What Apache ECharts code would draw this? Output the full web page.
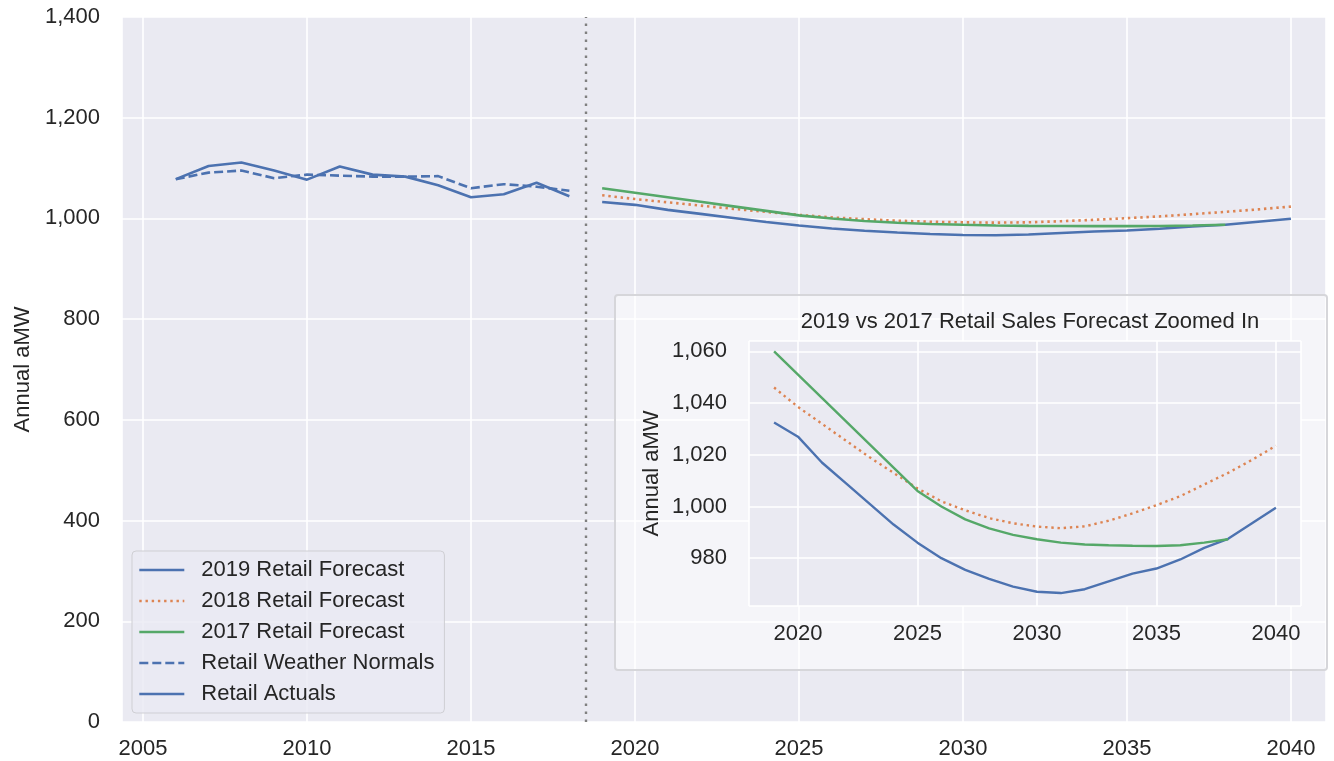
<!DOCTYPE html>
<html>
<head>
<meta charset="utf-8">
<title>Retail Sales Forecast</title>
<script src="https://cdn.jsdelivr.net/npm/echarts@6/dist/echarts.min.js"></script>
<style>
  html, body { margin: 0; padding: 0; background: #fff; }
  #chart { width: 1334px; height: 761px; }
</style>
</head>
<body>
<div id="chart"></div>
<script>
// history
var histYears = [2006, 2007, 2008, 2009, 2010, 2011, 2012, 2013, 2014, 2015, 2016, 2017, 2018];
var retailActuals = [1078, 1104, 1111, 1095, 1077, 1103, 1087, 1083, 1066, 1042, 1048, 1071, 1044];
var weatherNormals = [1078, 1091, 1095, 1080, 1087, 1085, 1083, 1083, 1084, 1060, 1068, 1063, 1055];

// forecasts
var forecastYears = [2019, 2020, 2021, 2022, 2023, 2024, 2025, 2026, 2027, 2028, 2029,
                     2030, 2031, 2032, 2033, 2034, 2035, 2036, 2037, 2038, 2039, 2040];
var forecast2019 = [1032.5, 1027, 1017, 1009, 1001, 993, 986, 980, 975.5, 972, 969,
                    967, 966.5, 968, 971, 974, 976, 979.5, 984, 987.5, 993.5, 999.5];
var forecast2018 = [1046, 1038.5, 1032, 1025.5, 1019, 1013, 1007, 1002, 998.5, 995.5, 993.5,
                    992.2, 991.6, 992.3, 994.5, 997.3, 1000.5, 1004, 1008.5, 1013, 1018, 1023.5];
var forecast2017 = [1060, 1051, 1042, 1033, 1024, 1015, 1006, 1000, 995, 991.5, 989,
                    987.3, 986, 985.3, 985, 984.8, 984.7, 985, 986, 987.3];

var splitYear = 2018.5;
var names = ["2019 Retail Forecast", "2018 Retail Forecast", "2017 Retail Forecast",
             "Retail Weather Normals", "Retail Actuals"];

var FONT = "Liberation Sans, Arial, sans-serif";
var TEXT = "#262626";
var BLUE = "#4C72B0", ORANGE = "#DD8452", GREEN = "#55A868";

function pairs(xs, ys) {
  return ys.map(function(v, i) { return [xs[i], v]; });
}
function onStep(v, step) {
  return Math.abs(v - Math.round(v / step) * step) < 1e-6;
}
function commas(v) {
  return Math.round(v).toLocaleString("en-US");
}

var chart = echarts.init(document.getElementById("chart"));

var labelStyle = { fontFamily: FONT, fontSize: 22, color: TEXT };
var gridLine = { show: true, lineStyle: { color: "#ffffff", width: 1.6 } };

function xAxisOf(gridIndex, min, max, margin) {
  return {
    type: "value", gridIndex: gridIndex, min: min, max: max,
    splitNumber: 8, minInterval: 5, maxInterval: 5,
    axisLine: { show: false }, axisTick: { show: false },
    splitLine: gridLine,
    axisLabel: Object.assign({ margin: margin, formatter: function(v) {
      return onStep(v, 5) ? String(Math.round(v)) : "";
    } }, labelStyle)
  };
}

function lines(xi, yi, width, z) {
  var base = { type: "line", xAxisIndex: xi, yAxisIndex: yi, symbol: "none", z: z };
  var out = [
    { name: names[0], data: pairs(forecastYears, forecast2019), color: BLUE,
      lineStyle: { color: BLUE, width: width } },
    { name: names[1], data: pairs(forecastYears, forecast2018), color: ORANGE,
      lineStyle: { color: ORANGE, width: width, type: [2.4, 3.8] } },
    { name: names[2], data: pairs(forecastYears, forecast2017), color: GREEN,
      lineStyle: { color: GREEN, width: width } }
  ];
  if (xi === 0) {
    out.push({ name: names[3], data: pairs(histYears, weatherNormals), color: BLUE,
      lineStyle: { color: BLUE, width: width, type: [9, 4] } });
    out.push({ name: names[4], data: pairs(histYears, retailActuals), color: BLUE,
      lineStyle: { color: BLUE, width: width },
      markLine: {
        silent: true, symbol: "none", label: { show: false },
        lineStyle: { color: "#808080", width: 2.4, type: [2.4, 5.6] },
        data: [{ xAxis: splitYear }]
      } });
  }
  return out.map(function(s) { return Object.assign({}, base, s); });
}

var option = {
  animation: false,
  backgroundColor: "#ffffff",
  textStyle: { fontFamily: FONT },
  title: {
    text: "2019 vs 2017 Retail Sales Forecast Zoomed In",
    left: 1030, top: 311, padding: 0, textAlign: "center",
    textStyle: { fontFamily: FONT, fontSize: 22, fontWeight: "normal", color: TEXT }
  },
  legend: {
    data: names,
    orient: "vertical", left: 132, top: 551,
    padding: [8, 10, 8, 6],
    itemWidth: 45, itemHeight: 14, itemGap: 9,
    itemStyle: { opacity: 0 },
    lineStyle: { width: 2.6 },
    backgroundColor: "rgba(234,234,242,0.8)",
    borderColor: "#cfcfd4", borderWidth: 1, borderRadius: 4,
    textStyle: { fontFamily: FONT, fontSize: 22, color: TEXT, lineHeight: 22, padding: [0, 0, 0, 12] },
    z: 5
  },
  graphic: [{
    type: "rect", z: 1, silent: true,
    shape: { x: 615, y: 295, width: 712, height: 375, r: 3 },
    style: { fill: "rgba(255,255,255,0.5)", stroke: "#d6d6da", lineWidth: 2 }
  }],
  grid: [
    { left: 122, right: 8, top: 17, bottom: 39, show: true, backgroundColor: "#EAEAF2",
      borderWidth: 0, z: 0, outerBoundsMode: "none", containLabel: false },
    { left: 749, right: 33, top: 341, bottom: 155, show: true, backgroundColor: "#EAEAF2",
      borderWidth: 0, z: 2, outerBoundsMode: "none", containLabel: false }
  ],
  xAxis: [
    xAxisOf(0, 2004.36, 2041.07, 16),
    Object.assign(xAxisOf(1, 2017.95, 2041.05, 17), { z: 3 })
  ],
  yAxis: [
    {
      type: "value", gridIndex: 0, min: 0, max: 1400, interval: 200,
      axisLine: { show: false }, axisTick: { show: false },
      splitLine: gridLine,
      axisLabel: Object.assign({ margin: 22, formatter: commas }, labelStyle),
      name: "Annual aMW", nameLocation: "middle", nameGap: 84,
      nameTextStyle: labelStyle
    },
    {
      type: "value", gridIndex: 1, min: 961.5, max: 1064,
      splitNumber: 5, minInterval: 20, maxInterval: 20,
      axisLine: { show: false }, axisTick: { show: false },
      splitLine: gridLine,
      axisLabel: Object.assign({ margin: 22, formatter: function(v) {
        return onStep(v, 20) ? commas(v) : "";
      } }, labelStyle),
      name: "Annual aMW", nameLocation: "middle", nameGap: 86,
      nameTextStyle: labelStyle, z: 3
    }
  ],
  series: lines(0, 0, 2.6, 2).concat(lines(1, 1, 2.4, 4))
};

chart.setOption(option);
</script>
</body>
</html>
